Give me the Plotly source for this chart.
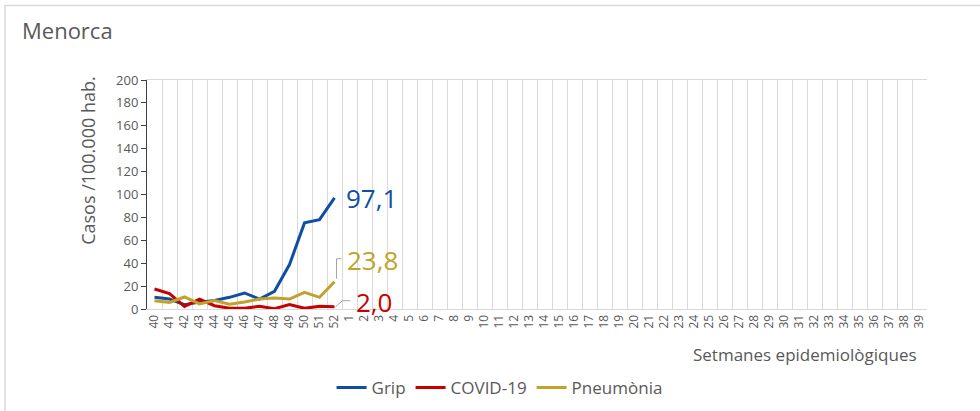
import plotly.graph_objects as go

# Epidemiological weeks (season 40 -> 39)
weeks = [str(w) for w in list(range(40, 53)) + list(range(1, 40))]

# Rates per 100.000 inhabitants (weeks 40-52)
grip = [10.2, 8.7, 3.8, 6.0, 7.5, 10.2, 14.0, 8.7, 15.5, 38.8, 75.2, 78.0, 97.1]
covid = [17.5, 13.4, 2.3, 8.7, 2.9, 0.6, 0.6, 2.3, 0.3, 3.8, 0.6, 2.3, 2.0]
pneumonia = [7.3, 5.8, 10.5, 4.4, 7.3, 4.1, 6.1, 8.7, 9.6, 8.7, 14.6, 10.2, 23.8]

series = [
    ("Grip", grip, "#0f4fa3"),
    ("COVID-19", covid, "#c70000"),
    ("Pneumònia", pneumonia, "#c3a22b"),
]

FONT = "Open Sans"
GREY = "#595959"

fig = go.Figure()

for name, vals, color in series:
    fig.add_trace(go.Scatter(
        x=weeks[:len(vals)],
        y=vals,
        mode="lines",
        name=name,
        line=dict(color=color, width=3),
    ))

# end-of-line value labels (pixel offsets from the last point)
label_shift = {"Grip": (9, 0), "COVID-19": (19, 5), "Pneumònia": (10, 22)}
for name, vals, color in series:
    last = len(vals) - 1
    dx, dy = label_shift[name]
    fig.add_annotation(
        x=last, y=vals[-1], xref="x", yref="y",
        text=f"{vals[-1]:.1f}".replace(".", ","),
        showarrow=False, xanchor="left", yanchor="middle",
        xshift=dx, yshift=dy,
        font=dict(family=FONT, size=26, color=color),
    )

# leader lines for the lower two labels
last = len(pneumonia) - 1
fig.add_shape(type="path", xref="x", yref="y", xsizemode="pixel", ysizemode="pixel",
              xanchor=last, yanchor=pneumonia[-1],
              path="M 2,3 L 2,23 L 7,23",
              line=dict(color="#a6a6a6", width=1))
fig.add_shape(type="path", xref="x", yref="y", xsizemode="pixel", ysizemode="pixel",
              xanchor=last, yanchor=covid[-1],
              path="M 1,0 L 8,6 L 16,6",
              line=dict(color="#a6a6a6", width=1))

# chart title
fig.add_annotation(
    x=-0.163, y=1.218, xref="paper", yref="paper",
    text="Menorca", showarrow=False, xanchor="left", yanchor="middle",
    font=dict(family=FONT, size=22, color=GREY),
)
# axis titles
fig.add_annotation(
    x=-0.076, y=0.65, xref="paper", yref="paper",
    text="Casos /100.000 hab.", showarrow=False, textangle=-90,
    xanchor="center", yanchor="middle",
    font=dict(family=FONT, size=18, color=GREY),
)
fig.add_annotation(
    x=0.99, y=-0.2, xref="paper", yref="paper",
    text="Setmanes epidemiològiques", showarrow=False,
    xanchor="right", yanchor="middle",
    font=dict(family=FONT, size=17, color=GREY),
)

# outer frame
fig.add_shape(type="rect", xref="paper", yref="paper",
              x0=-0.182, x1=1.2, y0=-0.6, y1=1.325,
              line=dict(color="#d9d9d9", width=1.5), layer="below")

fig.update_layout(
    width=980, height=411,
    margin=dict(l=147, r=53, t=80, b=102),
    paper_bgcolor="white", plot_bgcolor="white",
    font=dict(family=FONT, color=GREY),
    showlegend=True,
    legend=dict(orientation="h", x=0.452, xanchor="center",
                yref="container", y=0.056, yanchor="middle",
                font=dict(family=FONT, size=17, color=GREY), itemwidth=30),
    xaxis=dict(
        type="category", categoryorder="array", categoryarray=weeks,
        range=[-0.5, len(weeks) - 0.5],
        tickson="boundaries", ticks="", showgrid=True, gridcolor="#d9d9d9", gridwidth=1,
        showline=True, linecolor="#d9d9d9", linewidth=1, mirror=True,
        tickangle=-90, tickfont=dict(family=FONT, size=12, color=GREY),
        zeroline=False,
    ),
    yaxis=dict(
        range=[0, 200], dtick=20, showgrid=False, zeroline=False,
        showline=True, linecolor="#404040", linewidth=1,
        ticks="outside", ticklen=5, tickcolor="#404040",
        tickfont=dict(family=FONT, size=13, color=GREY),
    ),
)

fig.write_html("out.html", config={"displayModeBar": False},
               post_script="document.body.style.margin='0';")
